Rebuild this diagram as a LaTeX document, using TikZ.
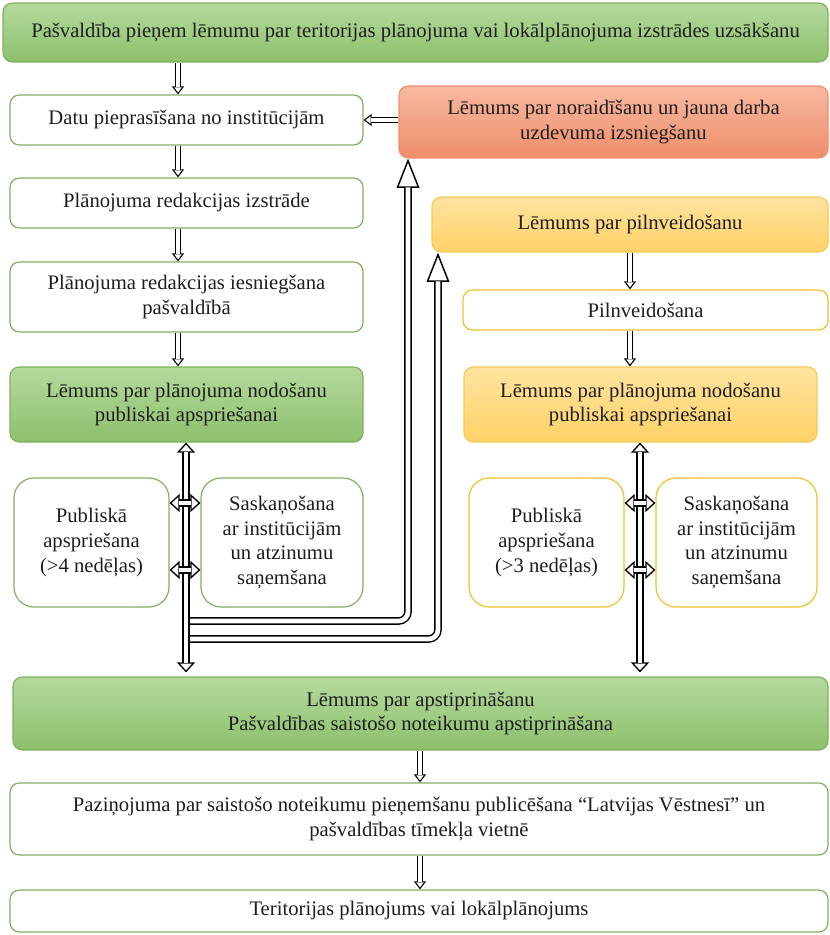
\documentclass[tikz,border=0pt]{standalone}
\usepackage{fontspec}
\setmainfont{Liberation Serif}
\usetikzlibrary{arrows.meta}

\definecolor{grnLine}{HTML}{80B060}
\definecolor{grnTop}{HTML}{B4D99C}
\definecolor{grnBot}{HTML}{8DC06D}
\definecolor{redLine}{HTML}{EC906F}
\definecolor{redTop}{HTML}{F8B9A0}
\definecolor{redBot}{HTML}{EF8E6B}
\definecolor{yelLine}{HTML}{F3CB58}
\definecolor{yelTop}{HTML}{FFE3A0}
\definecolor{yelBot}{HTML}{FFD267}
\definecolor{yelEdge}{HTML}{EFC22A}
\definecolor{txt}{HTML}{1E1E1E}

\tikzset{
  box/.style={rounded corners=7pt, line width=0.9pt, align=center, inner sep=0pt,
    text=txt, font=\rmfamily\fontsize{15.5}{18.5}\selectfont},
  sz/.style 2 args={minimum width=#1*0.75pt, minimum height=#2*0.75pt},
  whiteG/.style={box, draw=grnLine, fill=white},
  whiteY/.style={box, draw=yelEdge, fill=white},
  greenB/.style={box, draw=grnLine, top color=grnTop, bottom color=grnBot},
  redB/.style={box, draw=redLine, top color=redTop, bottom color=redBot},
  yelB/.style={box, draw=yelLine, top color=yelTop, bottom color=yelBot},
  tallbox/.style={rounded corners=15pt},
  % hollow arrows: a thin line carrying the open head, then a double shaft over it
  smallTip/.style={line width=0.8pt, -{Triangle[open, fill=white, length=6pt, width=9pt]}},
  smallShaft/.style={line width=0.8pt, double=white, double distance=3pt, shorten >=5.6pt},
  bigTip/.style={line width=1.1pt, rounded corners=7pt,
    -{Triangle[open, fill=white, length=22pt, width=17pt]}},
  bigShaft/.style={line width=1.1pt, rounded corners=7pt, double=white,
    double distance=3.5pt, shorten >=21.5pt},
  dblTip/.style={line width=1pt,
    {Triangle[open, fill=white, length=7.5pt, width=13.5pt]}-{Triangle[open, fill=white, length=7.5pt, width=13.5pt]}},
  dblShaft/.style={line width=1pt, double=white, double distance=3.5pt,
    shorten >=7pt, shorten <=7pt},
}

\newcommand{\hollowlink}[2]{\draw[#1Tip] #2; \draw[#1Shaft] #2;}

\begin{document}
\begin{tikzpicture}[x=0.75pt, y=-0.75pt]
\useasboundingbox (0,0) rectangle (830,935);

% boxes
\node[greenB, sz={825}{59}] (top) at (415.5,32.5)
  {Pašvaldība pieņem lēmumu par teritorijas plānojuma vai lokālplānojuma izstrādes uzsākšanu};
\node[whiteG, sz={353}{50}] (datu) at (186.5,120) {Datu pieprasīšana no institūcijām};
\node[redB, sz={429}{72}] (red) at (613.5,122)
  {Lēmums par noraidīšanu un jauna darba\\uzdevuma izsniegšanu};
\node[whiteG, sz={353}{50}] (izstr) at (186.5,203) {Plānojuma redakcijas izstrāde};
\node[whiteG, sz={353}{70}] (iesn) at (186.5,297)
  {Plānojuma redakcijas iesniegšana\\pašvaldībā};
\node[greenB, sz={353}{75}] (nodL) at (186.5,404.5)
  {Lēmums par plānojuma nodošanu\\publiskai apspriešanai};
\node[whiteG, tallbox, sz={155}{129}] (pubL) at (91.5,542.5)
  {Publiskā\\apspriešana\\(>4 nedēļas)};
\node[whiteG, tallbox, sz={162}{129}] (saskL) at (282,542.5)
  {Saskaņošana\\ar institūcijām\\un atzinumu\\saņemšana};

\node[yelB, sz={396}{55}] (pilnL) at (630,224.5) {Lēmums par pilnveidošanu};
\node[whiteY, sz={365}{40}] (pilnv) at (645.5,310) {Pilnveidošana};
\node[yelB, sz={353}{75}] (nodR) at (640.5,404.5)
  {Lēmums par plānojuma nodošanu\\publiskai apspriešanai};
\node[whiteY, tallbox, sz={155}{129}] (pubR) at (546.5,542.5)
  {Publiskā\\apspriešana\\(>3 nedēļas)};
\node[whiteY, tallbox, sz={161}{129}] (saskR) at (736.5,542.5)
  {Saskaņošana\\ar institūcijām\\un atzinumu\\saņemšana};

\node[greenB, sz={815}{73}] (apst) at (420.5,713.5)
  {Lēmums par apstiprināšanu\\Pašvaldības saistošo noteikumu apstiprināšana};
\node[whiteG, sz={818}{72}] (paz) at (419,819)
  {Paziņojuma par saistošo noteikumu pieņemšanu publicēšana “Latvijas Vēstnesī” un\\pašvaldības tīmekļa vietnē};
\node[whiteG, sz={818}{42}] (ter) at (419,911) {Teritorijas plānojums vai lokālplānojums};

% column lines for the arrows
\coordinate (lx) at (178,0);
\coordinate (rx) at (630,0);
\coordinate (mx) at (420,0);
\coordinate (vl) at (186,0);
\coordinate (vr) at (640,0);
\coordinate (upR) at (408,0);
\coordinate (upY) at (438,0);
\coordinate (jA) at (190,621);
\coordinate (jB) at (190,639);

% left column
\hollowlink{small}{(top.south -| lx) -- (datu.north -| lx)}
\hollowlink{small}{(red.west |- datu.east) -- (datu.east)}
\hollowlink{small}{(datu.south -| lx) -- (izstr.north -| lx)}
\hollowlink{small}{(izstr.south -| lx) -- (iesn.north -| lx)}
\hollowlink{small}{(iesn.south -| lx) -- (nodL.north -| lx)}

\hollowlink{dbl}{(nodL.south -| vl) -- ([yshift=3pt]apst.north -| vl)}
\hollowlink{dbl}{([yshift=29.6pt]pubL.east) -- ([yshift=29.6pt]saskL.west)}
\hollowlink{dbl}{([yshift=-20.6pt]pubL.east) -- ([yshift=-20.6pt]saskL.west)}

% returns to the rejection and improvement decisions
\hollowlink{big}{(jA) -| (red.south -| upR)}
\hollowlink{big}{(jB) -| (pilnL.south -| upY)}

% right column
\hollowlink{small}{(pilnL.south -| rx) -- (pilnv.north -| rx)}
\hollowlink{small}{(pilnv.south -| rx) -- (nodR.north -| rx)}

\hollowlink{dbl}{(nodR.south -| vr) -- ([yshift=3pt]apst.north -| vr)}
\hollowlink{dbl}{([yshift=29.6pt]pubR.east) -- ([yshift=29.6pt]saskR.west)}
\hollowlink{dbl}{([yshift=-20.6pt]pubR.east) -- ([yshift=-20.6pt]saskR.west)}

% bottom
\hollowlink{small}{(apst.south -| mx) -- (paz.north -| mx)}
\hollowlink{small}{(paz.south -| mx) -- (ter.north -| mx)}
\end{tikzpicture}
\end{document}
